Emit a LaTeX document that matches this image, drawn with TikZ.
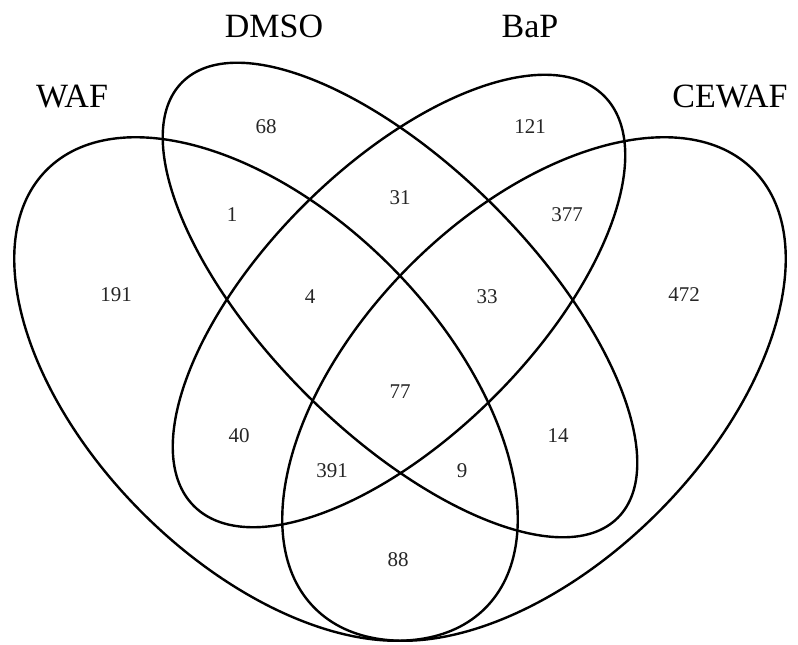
\documentclass[tikz,border=0pt]{standalone}
\usepackage{fontspec}
\setmainfont{Liberation Serif}
\begin{document}
\begin{tikzpicture}[x=1pt,y=-1pt,
  venn/.style={draw=black,line width=2.4pt},
  setlabel/.style={anchor=base,inner sep=0pt,font=\fontsize{34}{40}\selectfont},
  count/.style={anchor=base,inner sep=0pt,text=black!85,font=\fontsize{21}{24}\selectfont}]
\useasboundingbox (0,0) rectangle (798,645);
% ellipses
\draw[venn,rotate around={-45:(266,389)}] (266,389) ellipse [x radius=310pt, y radius=175pt];
\draw[venn,rotate around={45:(534,389)}] (534,389) ellipse [x radius=310pt, y radius=175pt];
\draw[venn,rotate around={-45:(400,300)}] (400,300) ellipse [x radius=308pt, y radius=133pt];
\draw[venn,rotate around={45:(399,301)}] (399,301) ellipse [x radius=290pt, y radius=135pt];
% set labels
\node[setlabel] (lwaf) at (72,107) {WAF};
\node[setlabel] (ldmso) at (274,37) {DMSO};
\node[setlabel] (lbap) at (530,37) {BaP};
\node[setlabel] (lcewaf) at (730,107) {CEWAF};
% counts
\node[count] (n68) at (266,133) {68};
\node[count] (n121) at (530,133) {121};
\node[count] (n1) at (232,221) {1};
\node[count] (n31) at (400,204) {31};
\node[count] (n377) at (567,221) {377};
\node[count] (n191) at (116,301) {191};
\node[count] (n4) at (310,303) {4};
\node[count] (n33) at (487,303) {33};
\node[count] (n472) at (684,301) {472};
\node[count] (n77) at (400,398) {77};
\node[count] (n40) at (239,442) {40};
\node[count] (n14) at (558,442) {14};
\node[count] (n391) at (332,477) {391};
\node[count] (n9) at (462,477) {9};
\node[count] (n88) at (398,566) {88};
\end{tikzpicture}
\end{document}
